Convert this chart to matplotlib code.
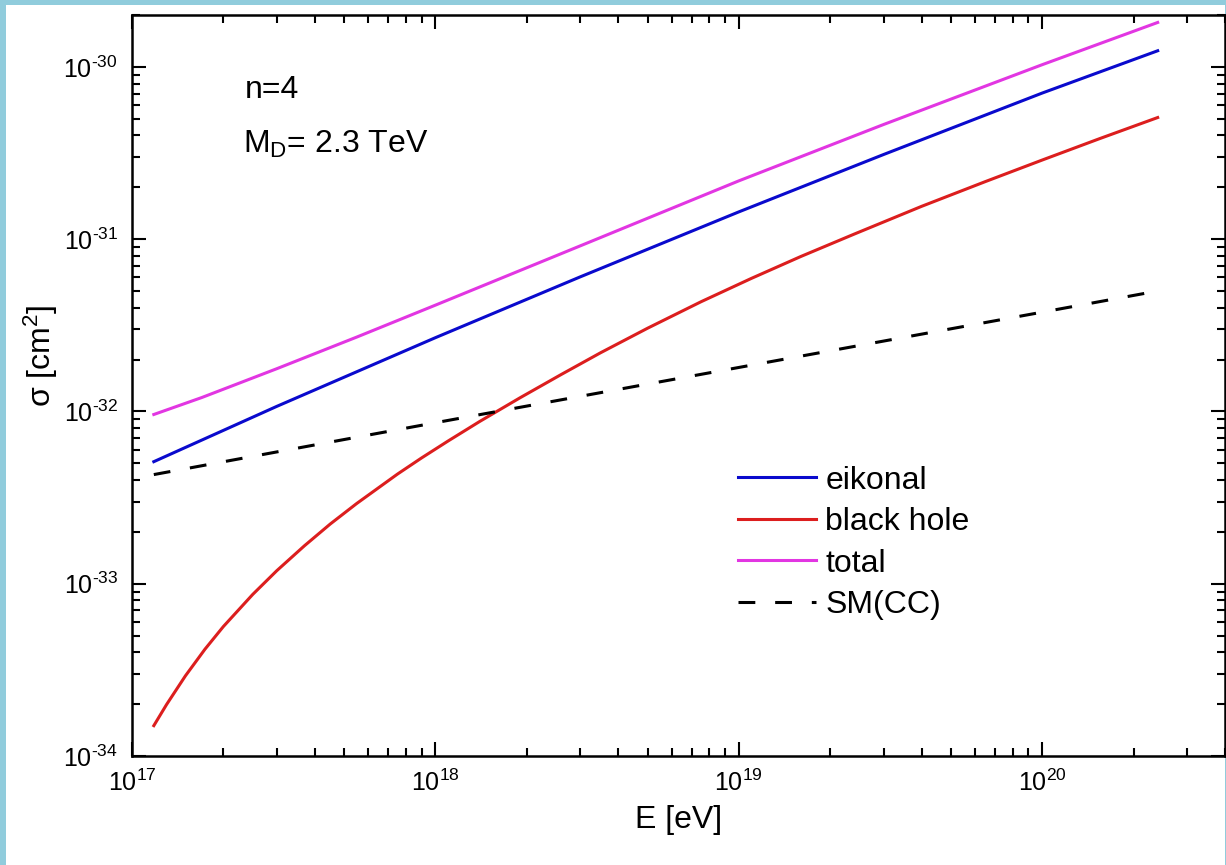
import numpy as np
import matplotlib
matplotlib.use("Agg")
import matplotlib.pyplot as plt
from matplotlib.ticker import FixedLocator, LogLocator, NullFormatter, FuncFormatter
from matplotlib.patches import Rectangle

plt.rcParams['font.family'] = ['Liberation Sans', 'DejaVu Sans']
plt.rcParams['mathtext.fontset'] = 'custom'
plt.rcParams['mathtext.rm'] = 'Liberation Sans'
plt.rcParams['mathtext.it'] = 'Liberation Sans'

# energies [eV] and cross sections [cm^2]
E_bh = [1.18e17, 1.3e17, 1.5e17, 1.74e17, 2.0e17, 2.5e17, 3.0e17, 3.7e17, 4.5e17,
        5.5e17, 7.5e17, 9.0e17, 1.1e18, 1.4e18, 1.9e18, 2.6e18, 3.5e18, 5.0e18,
        7.5e18, 1.1e19, 1.6e19, 2.4e19, 4.0e19, 6.5e19, 1.0e20, 1.55e20, 2.4e20]
sigma_bh = [1.50e-34, 1.99e-34, 2.92e-34, 4.17e-34, 5.64e-34, 8.67e-34, 1.19e-33, 1.66e-33, 2.22e-33,
            2.92e-33, 4.33e-33, 5.37e-33, 6.73e-33, 8.75e-33, 1.20e-32, 1.64e-32, 2.19e-32, 3.04e-32,
            4.33e-32, 5.92e-32, 7.93e-32, 1.07e-31, 1.55e-31, 2.16e-31, 2.88e-31, 3.84e-31, 5.08e-31]

E_eik = [1.18e17, 3.0e17, 1.0e18, 3.0e18, 1.0e19, 3.0e19, 1.0e20, 2.4e20]
sigma_eik = [5.11e-33, 1.07e-32, 2.68e-32, 6.04e-32, 1.44e-31, 3.10e-31, 7.05e-31, 1.24e-30]

E_tot = [1.18e17, 1.7e17, 3.0e17, 5.5e17, 1.0e18, 3.0e18, 1.0e19, 3.0e19, 1.0e20, 2.4e20]
sigma_tot = [9.6e-33, 1.205e-32, 1.77e-32, 2.70e-32, 4.14e-32, 9.14e-32, 2.18e-31, 4.63e-31,
             1.03e-30, 1.81e-30]

E_sm = [1.18e17, 1.0e18, 1.0e19, 1.0e20, 2.4e20]
sigma_sm = [4.3e-33, 8.6e-33, 1.80e-32, 3.77e-32, 5.0e-32]

x_major = [1e17, 1e18, 1e19, 1e20]
y_major = [1e-34, 1e-33, 1e-32, 1e-31, 1e-30]

W, H = 1226, 865
fig = plt.figure(figsize=(W / 100, H / 100), dpi=100)
fig.patch.set_facecolor('#90CCDC')
# white panel inside the light blue frame
fig.add_artist(Rectangle((6 / W, 0), 1 - 7 / W, 1 - 5 / H, transform=fig.transFigure,
                         facecolor='white', edgecolor='none', zorder=-5))

ax = fig.add_axes([132 / W, (H - 756) / H, 1093 / W, 741 / H])
ax.set_facecolor('none')
ax.set_xscale('log')
ax.set_yscale('log')

lw = 2.2
ax.plot(E_eik, sigma_eik, color='#0A0ACD', lw=lw, label='eikonal')
ax.plot(E_bh, sigma_bh, color='#DC1E1E', lw=lw, label='black hole')
ax.plot(E_tot, sigma_tot, color='#E236E2', lw=lw, label='total')
ax.plot(E_sm, sigma_sm, color='black', lw=lw, dashes=(5.5, 6.5), label='SM(CC)')

ax.set_xlim(1e17, 4e20)
ax.set_ylim(1e-34, 2e-30)


def pow_fmt(v, pos):
    e = round(np.log10(v))
    if e < 0:
        return r'$\mathregular{10^{\text{-}%d}}$' % (-e)
    return r'$\mathregular{10^{%d}}$' % e


for axis, major in ((ax.xaxis, x_major), (ax.yaxis, y_major)):
    axis.set_major_locator(FixedLocator(major))
    axis.set_minor_locator(LogLocator(base=10, subs=np.arange(2, 10), numticks=20))
    axis.set_minor_formatter(NullFormatter())
    axis.set_major_formatter(FuncFormatter(pow_fmt))

ax.tick_params(which='both', direction='in', top=True, right=True, width=1.5, labelsize=18)
ax.tick_params(which='major', length=10, pad=10)
ax.tick_params(which='minor', length=5.5)
for s in ax.spines.values():
    s.set_linewidth(1.8)

ax.set_xlabel('E [eV]', fontsize=23, labelpad=6)
ax.set_ylabel(r'σ [cm$^\mathregular{2}$]', fontsize=23)
ax.yaxis.set_label_coords(-0.066, 0.54)

ax.text(0.103, 0.888, 'n=4', transform=ax.transAxes, fontsize=23, va='baseline')
ax.text(0.1016, 0.814, r'M$_\mathregular{D}$= 2.3 TeV', transform=ax.transAxes,
        fontsize=23, va='baseline')

ax.legend(loc='upper left', bbox_to_anchor=(0.554, 0.392), frameon=False, fontsize=23,
          borderpad=0, borderaxespad=0, handlelength=2.45, handletextpad=0.3,
          labelspacing=0.36)

fig.savefig('out.png', dpi=100)
